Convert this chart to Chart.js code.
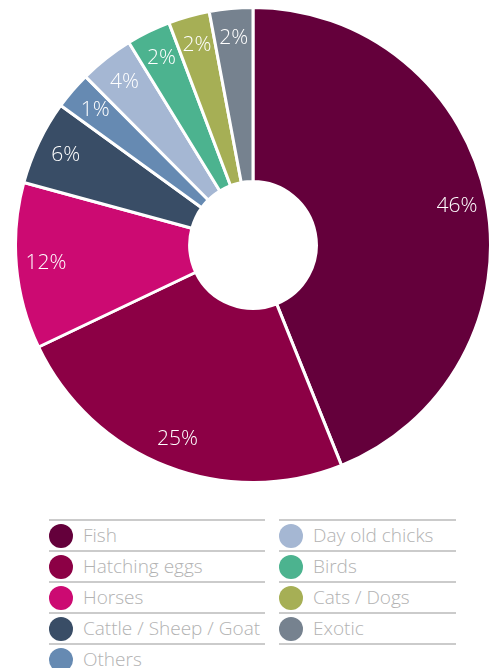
<!DOCTYPE html>
<html>
<head>
<meta charset="utf-8">
<script src="https://cdn.jsdelivr.net/npm/chart.js@4/dist/chart.umd.min.js"></script>
<style>
  body { margin: 0; background: #fff; width: 495px; height: 668px; overflow: hidden; position: relative; font-family: 'Open Sans', 'Noto Sans', sans-serif; }
  #wrap { position: absolute; left: 14px; top: 6px; width: 478px; height: 478px; }
  .col { position: absolute; top: 519px; border-top: 2px solid #cbcbcb; }
  .row { height: 29px; border-bottom: 2px solid #cbcbcb; position: relative; }
  .row.last { border-bottom: none; }
  .dot { position: absolute; left: 0; top: 3px; width: 24px; height: 24px; border-radius: 50%; }
  .txt { position: absolute; left: 34px; top: 0px; font-size: 19px; font-weight: 300; color: #b2b2b2; white-space: nowrap; line-height: 28px; }
</style>
</head>
<body>
<div id="wrap"><canvas id="myChart"></canvas></div>
<div class="col" id="colA" style="left:49px;width:216px"></div>
<div class="col" id="colB" style="left:279px;width:177px"></div>
<script>
/* dados do grafico (sentido horario a partir do topo) */
var categorias = ['Fish', 'Hatching eggs', 'Horses', 'Cattle / Sheep / Goat', 'Others',
                  'Day old chicks', 'Birds', 'Cats / Dogs', 'Exotic'];
// tamanho das fatias
var fatias = [43.9, 24.0, 11.3, 5.75, 2.55, 3.7, 3.0, 2.8, 2.95];
// rotulos impressos nas fatias
var rotulos = ['46%', '25%', '12%', '6%', '1%', '4%', '2%', '2%', '2%'];
var cores = ['#64003b', '#8c0045', '#cc0a72', '#394d66', '#668ab2',
             '#a5b7d3', '#4cb38f', '#a6af55', '#76828f'];

// Rotulos dentro das fatias
var rotulosPlugin = {
  id: 'rotulos',
  afterDatasetsDraw: function (chart) {
    var ctx = chart.ctx;
    var meta = chart.getDatasetMeta(0);
    ctx.save();
    ctx.fillStyle = '#ffffff';
    ctx.font = '300 21px "Open Sans", "Noto Sans", sans-serif';
    ctx.textAlign = 'center';
    ctx.textBaseline = 'middle';
    meta.data.forEach(function (arc, i) {
      var p = arc.getProps(['x', 'y', 'startAngle', 'endAngle', 'outerRadius'], true);
      var meio = (p.startAngle + p.endAngle) / 2;
      var r = p.outerRadius * 0.875;
      ctx.fillText(rotulos[i], p.x + Math.cos(meio) * r, p.y + Math.sin(meio) * r);
    });
    ctx.restore();
  }
};

var ctx = document.getElementById('myChart').getContext('2d');
var myChart = new Chart(ctx, {
  type: 'doughnut',
  data: {
    labels: categorias,
    datasets: [{
      data: fatias,
      backgroundColor: cores,
      borderColor: '#ffffff',
      borderWidth: 3
    }]
  },
  options: {
    responsive: true,
    maintainAspectRatio: false,
    animation: false,
    cutout: '26.7%',
    plugins: { legend: { display: false }, tooltip: { enabled: false } }
  },
  plugins: [rotulosPlugin]
});

// Legenda em duas colunas
function Legenda(colId, inicio, fim) {
  var col = document.getElementById(colId);
  for (var i = inicio; i < fim; i++) {
    var row = document.createElement('div');
    row.className = 'row' + (i === 4 ? ' last' : '');
    row.innerHTML = '<span class="dot" style="background:' + cores[i] + '"></span>' +
                    '<span class="txt">' + categorias[i] + '</span>';
    col.appendChild(row);
  }
}
Legenda('colA', 0, 5);
Legenda('colB', 5, 9);
</script>
</body>
</html>
